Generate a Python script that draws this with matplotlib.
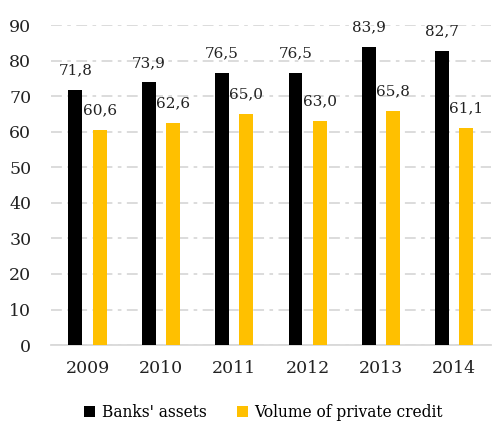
import matplotlib

matplotlib.use("Agg")
import matplotlib.pyplot as plt
import numpy as np

years = ["2009", "2010", "2011", "2012", "2013", "2014"]
banks_assets = [71.8, 73.9, 76.5, 76.5, 83.9, 82.7]
private_credit = [60.6, 62.6, 65.0, 63.0, 65.8, 61.1]

plt.rcParams["font.family"] = ["DejaVu Serif"]

fig = plt.figure(figsize=(4.93, 4.25), dpi=100)
ax = fig.add_axes([0.103, 0.188, 0.893, 0.753])

x = np.arange(len(years))
w = 0.19
off = 0.165
b1 = ax.bar(x - off, banks_assets, w, color="black", label="Banks' assets", zorder=3)
b2 = ax.bar(x + off, private_credit, w, color="#FFC000", label="Volume of private credit", zorder=3)

# data labels, decimal comma as in the source
for bars, vals in ((b1, banks_assets), (b2, private_credit)):
    for rect, v in zip(bars, vals):
        ax.annotate(f"{v:.1f}".replace(".", ","), (rect.get_x() + rect.get_width() / 2, v),
                    xytext=(0, 9), textcoords="offset points", ha="center", va="bottom",
                    fontsize=11, color="#222222")

ax.set_xlim(-0.5, len(years) - 0.5)
ax.set_ylim(0, 90)
ax.set_yticks(range(0, 91, 10))
ax.set_xticks(x)
ax.set_xticklabels(years)
ax.tick_params(axis="both", length=0, labelsize=12.5, colors="#222222")
ax.tick_params(axis="x", pad=11)
ax.tick_params(axis="y", pad=14)

ax.grid(axis="y", color="#d9d9d9", linestyle=(0, (6, 3, 2, 3)), linewidth=1.3, zorder=0)
for s in ("top", "right", "left"):
    ax.spines[s].set_visible(False)
ax.spines["bottom"].set_color("#d9d9d9")
ax.spines["bottom"].set_linewidth(1.3)

fig.legend(handles=[b1, b2], loc="center", bbox_to_anchor=(0.535, 0.03), ncol=2,
           frameon=False, fontsize=11.2, handlelength=0.7, handleheight=0.7,
           columnspacing=2.0, handletextpad=0.4)

fig.savefig("out.png", dpi=100)
